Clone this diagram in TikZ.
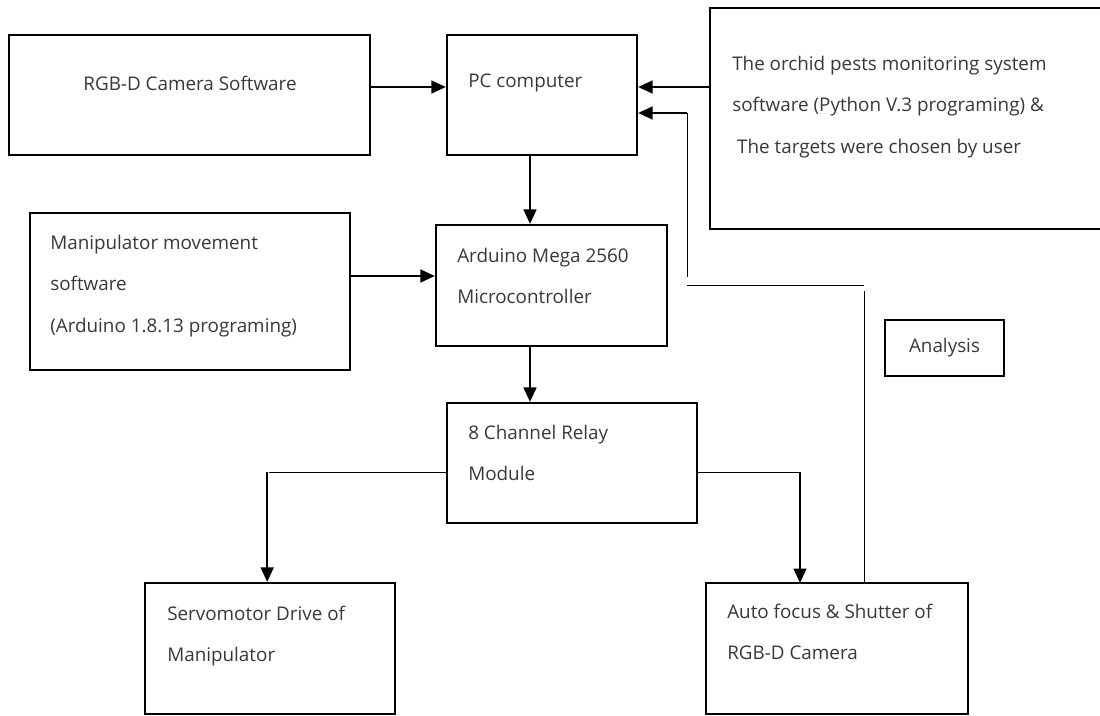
\documentclass[tikz,border=0pt]{standalone}
\usepackage{fontspec}
\setmainfont{Open Sans}
\usetikzlibrary{positioning,arrows.meta,fit}
\tikzset{
  box/.style={draw=black,line width=1.6pt,inner sep=0pt},
  txt/.style={anchor=west,align=left,inner sep=0pt,text=black!78},
  flow/.style={-{Triangle[length=3.6mm,width=3.2mm]},draw=black,line width=1.4pt},
  wire/.style={draw=black,line width=0.7pt}}

\begin{document}
\begin{tikzpicture}[x=0.025cm,y=-0.025cm,font=\fontsize{13.4}{29.5}\selectfont]
  \useasboundingbox (0,0) rectangle (1100,716);
  % blocks
  \node[box,fit={(9,35) (370,155)}] (cam) {};
  \node[box,fit={(447,35) (637,155)}] (pc) {};
  \node[box,fit={(710,8) (1110,229)}] (orc) {};
  \node[box,fit={(30,213) (350,370)}] (man) {};
  \node[box,fit={(436,225) (667,346)}] (ard) {};
  \node[box,fit={(885,320) (1004,376)}] (ana) {};
  \node[box,fit={(447,403) (697,523)}] (rel) {};
  \node[box,fit={(145,583) (395,714)}] (srv) {};
  \node[box,fit={(706,583) (968,714)}] (afc) {};
  % texts
  \node[txt,anchor=center] (cam-t) at (190,83) {RGB-D Camera Software};
  \node[txt] (pc-t) at (468,83) {PC computer};
  \node[txt] (orc-t) at (732,107) {The orchid pests monitoring system\\software (Python V.3 programing) \&\\\ The targets were chosen by user};
  \node[txt] (man-t) at (50,286) {Manipulator movement\\software\\(Arduino 1.8.13 programing)};
  \node[txt] (ard-t) at (457,276) {Arduino Mega 2560\\Microcontroller};
  \node[txt,anchor=center] (ana-t) at (ana.center) {Analysis};
  \node[txt] (rel-t) at (468,453) {8 Channel Relay\\Module};
  \node[txt] (srv-t) at (167,636) {Servomotor Drive of\\Manipulator};
  \node[txt] (afc-t) at (727,632) {Auto focus \& Shutter of\\RGB-D Camera};
  % taps
  \coordinate (row1) at (0,87);
  \coordinate (row2) at (0,113);
  \coordinate (row3) at (0,276);
  \coordinate (row4) at (0,472);
  \coordinate (col1) at (530,0);
  \coordinate (afin) at (800,583);
  \coordinate (fbA) at (864,583);
  \coordinate (fbB) at (687,285);
  % connectors
  \draw[flow] (cam.east |- row1) -- (pc.west |- row1);
  \draw[flow] (orc.west |- row1) -- (pc.east |- row1);
  \draw[flow] (col1 |- pc.south) -- (col1 |- ard.north);
  \draw[flow] (man.east |- row3) -- (ard.west |- row3);
  \draw[flow] (col1 |- ard.south) -- (col1 |- rel.north);
  \draw[wire] (rel.west |- row4) -- ([xshift=-1]srv.north |- row4);
  \draw[flow] ([xshift=-2]srv.north |- row4) -- ([xshift=-2]srv.north);
  \draw[wire] (rel.east |- row4) -- (afin |- row4);
  \draw[flow] (afin |- row4) -- (afin);
  % feedback
  \draw[wire] (fbA) -- ([yshift=-4]fbA |- fbB);
  \draw[wire] (fbA |- fbB) -- (fbB);
  \draw[wire] ([yshift=6]fbB) -- (fbB |- row2);
  \draw[flow] (fbB |- row2) -- (pc.east |- row2);
\end{tikzpicture}
\end{document}
